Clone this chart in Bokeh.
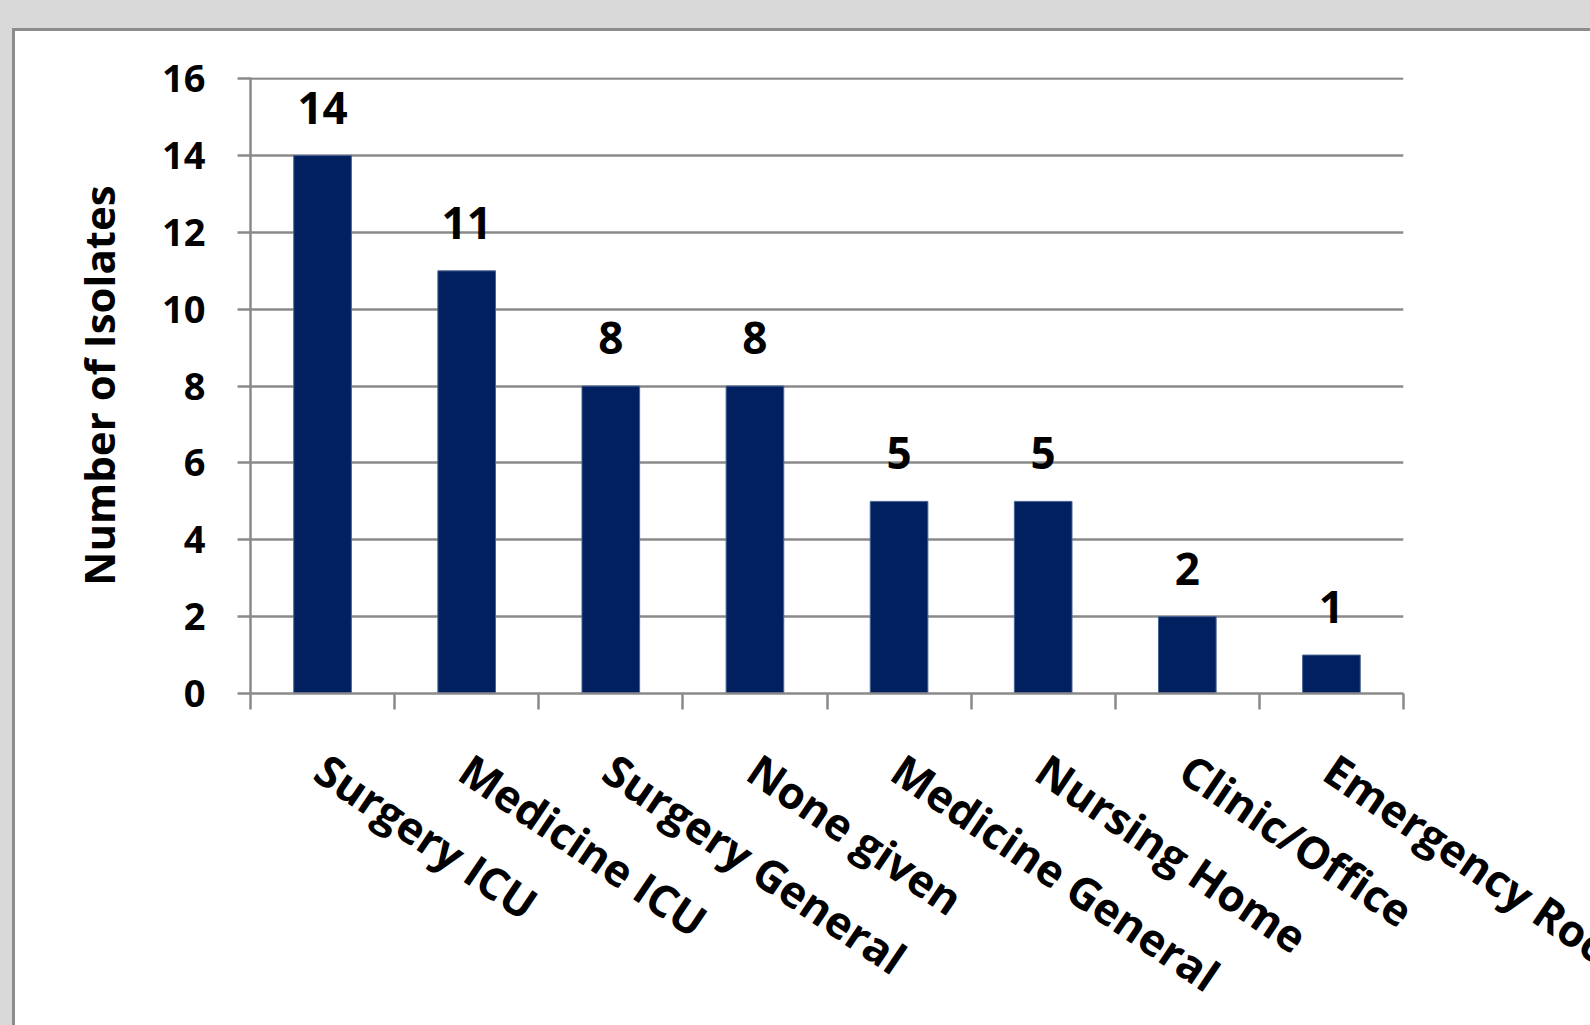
from bokeh.plotting import figure
from bokeh.models import Range1d, FixedTicker, ColumnDataSource
from bokeh.layouts import column
from bokeh.core.properties import value
from bokeh.embed import file_html
from bokeh.resources import INLINE

# ---- data ----
categories = ["Surgery ICU", "Medicine ICU", "Surgery General", "None given",
              "Medicine General", "Nursing Home", "Clinic/Office", "Emergency Room"]
counts = [14, 11, 8, 8, 5, 5, 2, 1]
y_ticks = [0, 2, 4, 6, 8, 10, 12, 14, 16]
y_title = "Number of Isolates"

FONT = "Open Sans"
GRID = "#8a8a8a"
BORDER = "3px solid #8c8c8c"

n = len(categories)
centers = [i + 0.5 for i in range(n)]
bounds = list(range(n + 1))

# ---- layout geometry (pixels) ----
W = 1575
LEFT, RIGHT, TOP, BOTTOM = 235, 187, 46, 38
H_CHART, H_LABELS = 700, 294
frame_w = W - LEFT - RIGHT

src = ColumnDataSource(dict(x=centers, top=counts, base=[1] * n,
                            label=[str(c) for c in counts], cat=categories))

# ---- main chart ----
p = figure(width=W, height=H_CHART,
           x_range=Range1d(0, n), y_range=Range1d(y_ticks[0], y_ticks[-1] * 1.002),
           output_backend="svg", toolbar_location=None,
           min_border_left=LEFT, min_border_top=TOP, min_border_right=RIGHT, min_border_bottom=BOTTOM,
           background_fill_color="white", border_fill_color="white",
           outline_line_color=None)

p.vbar(x="x", top="top", bottom=0, width=0.4, source=src,
       fill_color="#00205F", line_color="#4a6494", line_width=1)

p.text(x="x", y="top", text="label", source=src,
       text_font=value(FONT), text_font_style="bold", text_font_size="44px",
       text_align="center", text_baseline="alphabetic", y_offset=-48, text_color="black")

p.xgrid.visible = False
p.ygrid.ticker = FixedTicker(ticks=y_ticks)
p.ygrid.grid_line_color = GRID
p.ygrid.grid_line_width = 2.5

ya = p.yaxis[0]
ya.ticker = FixedTicker(ticks=y_ticks)
ya.axis_line_color = GRID
ya.axis_line_width = 2.5
ya.major_tick_line_color = GRID
ya.major_tick_line_width = 2.5
ya.major_tick_out = 13
ya.major_tick_in = 0
ya.minor_tick_line_color = None
ya.major_label_text_font = FONT
ya.major_label_text_font_style = "bold"
ya.major_label_text_font_size = "38px"
ya.major_label_text_color = "black"
ya.major_label_standoff = 32
ya.axis_label = y_title
ya.axis_label_text_font = FONT
ya.axis_label_text_font_style = "bold"
ya.axis_label_text_font_size = "42px"
ya.axis_label_text_color = "black"
ya.axis_label_standoff = 32

# x axis: ticks at category boundaries; labels drawn in the strip below
xa = p.xaxis[0]
xa.ticker = FixedTicker(ticks=centers, minor_ticks=bounds)
xa.major_label_overrides = {c: "" for c in centers}
xa.major_label_standoff = 0
xa.axis_line_color = GRID
xa.axis_line_width = 2.5
xa.major_tick_out = 0
xa.major_tick_in = 0
xa.major_tick_line_color = None
xa.minor_tick_line_color = GRID
xa.minor_tick_line_width = 2.5
xa.minor_tick_out = 16
xa.minor_tick_in = 0

# ---- strip with the rotated category labels (same px-per-category scale) ----
lab_frame_w = W - LEFT
q = figure(width=W, height=H_LABELS,
           x_range=Range1d(0, n * lab_frame_w / frame_w), y_range=Range1d(0, 1),
           output_backend="svg", toolbar_location=None,
           min_border_left=LEFT, min_border_right=0, min_border_top=0, min_border_bottom=0,
           background_fill_color="white", border_fill_color="white",
           outline_line_color=None, x_axis_type=None, y_axis_type=None)
q.grid.visible = False
q.text(x="x", y="base", text="cat", source=src,
       angle=-0.595, text_align="left", text_baseline="alphabetic",
       x_offset=-2, y_offset=51 - (H_CHART - 682),
       text_font=value(FONT), text_font_style="bold", text_font_size="44px",
       text_color="black")

for fig in (p, q):
    if "frame_align" in fig.properties():
        fig.frame_align = False

inner = column(p, q, spacing=0,
               styles={"background-color": "white",
                       "border-left": BORDER, "border-top": BORDER})
layout = column(inner, spacing=0,
                styles={"background-color": "#d9d9d9",
                        "padding-left": "12px", "padding-top": "28px"})

open("out.html", "w").write(file_html(layout, INLINE))
